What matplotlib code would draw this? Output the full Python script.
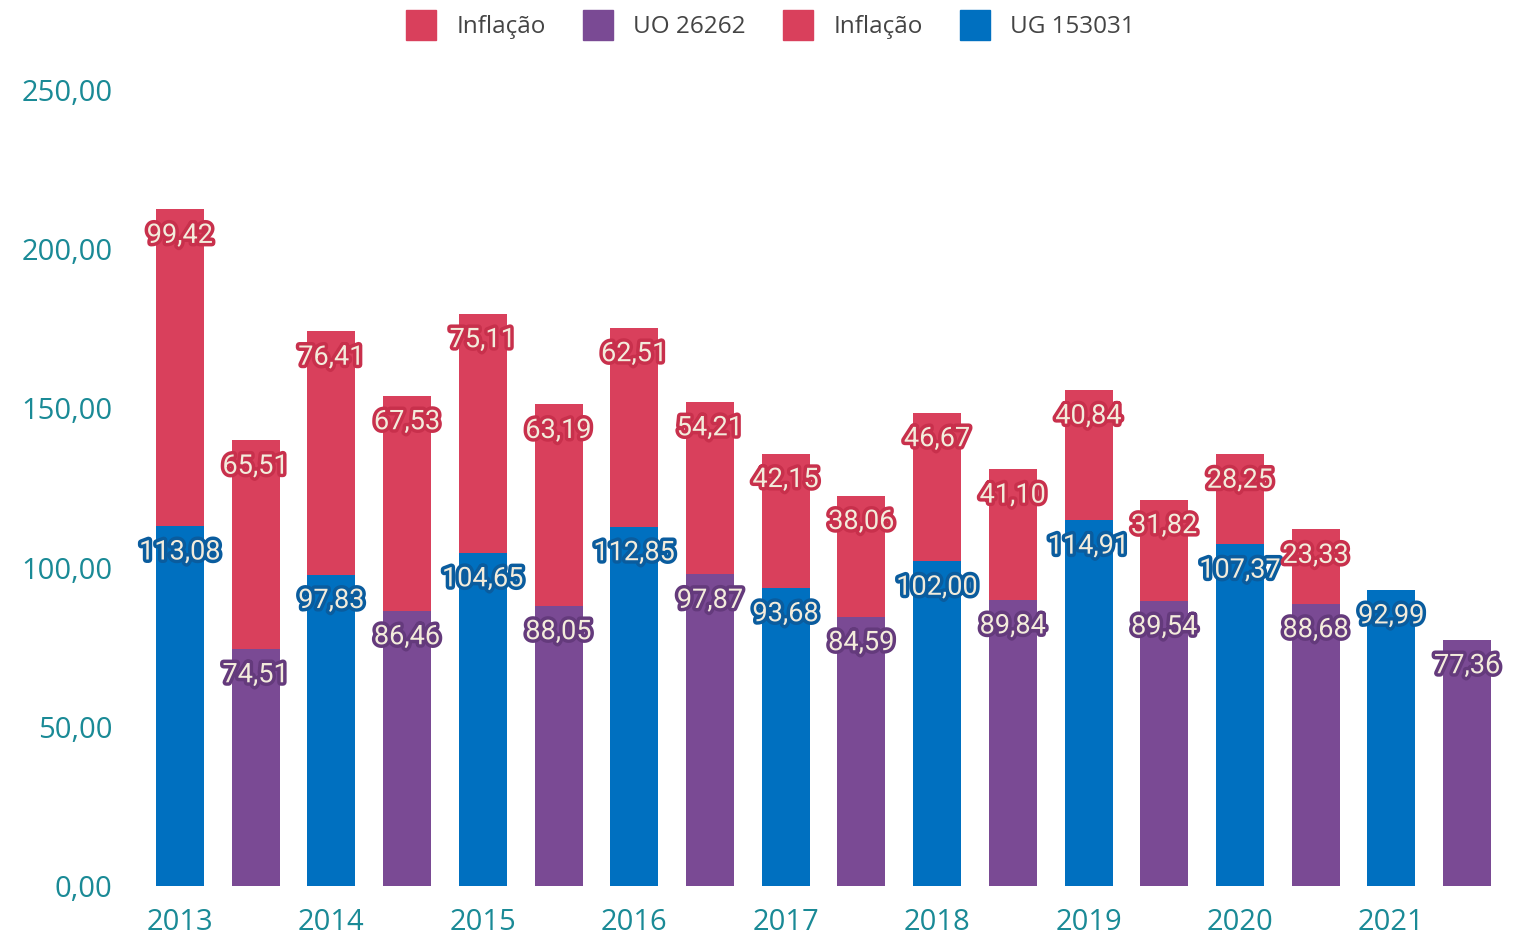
import matplotlib.pyplot as plt
import matplotlib.patheffects as pe
from matplotlib.lines import Line2D
import numpy as np

# data
years = ['2013', '2014', '2015', '2016', '2017', '2018', '2019', '2020', '2021']
ug_153031 = [113.08, 97.83, 104.65, 112.85, 93.68, 102.00, 114.91, 107.37, 92.99]
infl_ug = [99.42, 76.41, 75.11, 62.51, 42.15, 46.67, 40.84, 28.25, 0]
uo_26262 = [74.51, 86.46, 88.05, 97.87, 84.59, 89.84, 89.54, 88.68, 77.36]
infl_uo = [65.51, 67.53, 63.19, 54.21, 38.06, 41.10, 31.82, 23.33, 0]
yticks = [0, 50, 100, 150, 200, 250]

RED = '#d9405c'
PURPLE = '#7a4a94'
BLUE = '#0070c0'
TEAL = '#1a8a96'
LABEL_TXT = '#f3ecdc'

fig = plt.figure(figsize=(15.17, 9.36), dpi=100)
ax = fig.add_axes([0.0862, 0.0534, 0.9034, 0.8504])

x_ug = np.arange(len(years)) * 2
x_uo = x_ug + 1
w = 0.634

ax.bar(x_ug, ug_153031, width=w, color=BLUE)
ax.bar(x_ug, infl_ug, width=w, bottom=ug_153031, color=RED)
ax.bar(x_uo, uo_26262, width=w, color=PURPLE)
ax.bar(x_uo, infl_uo, width=w, bottom=uo_26262, color=RED)


def label(x, top, val, edge):
    ax.annotate(f'{val:.2f}'.replace('.', ','), (x, top), xytext=(0, -26),
                textcoords='offset pixels', ha='center', va='center',
                fontsize=19.5, family='Roboto', color=LABEL_TXT,
                path_effects=[pe.withStroke(linewidth=5, foreground=edge)])


for i in range(len(years)):
    label(x_ug[i], ug_153031[i], ug_153031[i], '#0a5c9e')
    label(x_uo[i], uo_26262[i], uo_26262[i], '#643a7c')
    if infl_ug[i] > 0:
        label(x_ug[i], ug_153031[i] + infl_ug[i], infl_ug[i], '#c8304c')
    if infl_uo[i] > 0:
        label(x_uo[i], uo_26262[i] + infl_uo[i], infl_uo[i], '#c8304c')

ax.set_xlim(-0.65, 17.45)
ax.set_ylim(0, 250)
ax.set_yticks(yticks)
ax.set_yticklabels([f'{v:.2f}'.replace('.', ',') for v in yticks])
ax.set_xticks(x_ug)
ax.set_xticklabels(years)
ax.tick_params(length=0, labelsize=21, labelcolor=TEAL)
ax.tick_params(axis='y', pad=13)
ax.tick_params(axis='x', pad=16)
for lab in ax.get_xticklabels() + ax.get_yticklabels():
    lab.set_family('Open Sans')
for s in ax.spines.values():
    s.set_visible(False)

handles = [Line2D([], [], marker='s', linestyle='', markersize=21, color=c)
           for c in [RED, PURPLE, RED, BLUE]]
fig.legend(handles, ['Inflação', 'UO 26262', 'Inflação', 'UG 153031'],
           loc='upper center', bbox_to_anchor=(0.505, 1.007), ncol=4,
           frameon=False, prop={'family': 'Open Sans', 'size': 17.5},
           labelcolor='#444444', handletextpad=0.45, columnspacing=1.15)

fig.savefig('out.png', dpi=100)
